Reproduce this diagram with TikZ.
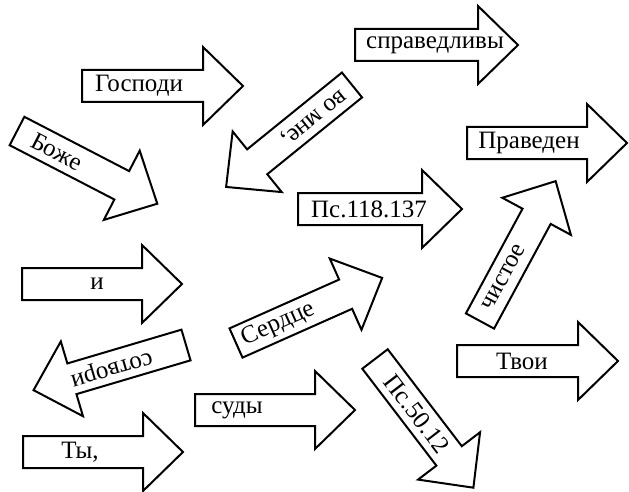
\documentclass[tikz,border=0pt]{standalone}
\usepackage{fontspec}
\setmainfont{Liberation Serif}
\usepackage{tikz}
\usetikzlibrary{calc}

\tikzset{
	signline/.style={draw, line width=2pt, fill=white},
	signtext/.style={font=\fontsize{25}{27}\selectfont, inner sep=0pt, transform shape}
}

% arrow sign: name, tail point, angle, length, text offset from tail, text
\newcommand{\arrowsign}[6]{
	\begin{scope}[shift={#2}, rotate=#3]
		\draw [signline] (0,-16) -- ({#4-40},-16) -- ({#4-40},-39) -- (#4,0) -- ({#4-40},39) -- ({#4-40},16) -- (0,16) -- cycle;
		\node [signtext] at (#5,0) (#1){#6};
	\end{scope}
}

\begin{document}
\begin{tikzpicture}[x=1pt, y=1pt]

	\useasboundingbox (0,0) rectangle (629,491);

	% top row
	\arrowsign{gospodi}{(82,405)}{0}{161}{57}{Господи}
	\arrowsign{spravedlivy}{(355,446)}{0}{163}{80}{справедливы}
	\arrowsign{vomne}{(352,406)}{219}{162}{50}{во мне,}
	\arrowsign{bozhe}{(17,360)}{-27.4}{158}{45}{Боже}
	\arrowsign{praveden}{(467,348)}{0}{160}{62}{Праведен}
	\arrowsign{ps118}{(298,282)}{0}{164}{71}{Пс.118.137}

	% middle row
	\arrowsign{i}{(22,207)}{0}{160}{75}{и}
	\arrowsign{chistoe}{(480,170)}{61.6}{159}{50}{чистое}
	\arrowsign{serdce}{(236,148)}{24}{160}{46}{Сердце}
	\arrowsign{sotvori}{(186,146)}{196.5}{159}{78}{сотвори}
	\arrowsign{tvoi}{(457,130)}{0}{161}{65}{Твои}

	% bottom row
	\arrowsign{ps50}{(375,132)}{-52.6}{162}{69}{Пс.50.12}
	\arrowsign{sudy}{(195,81)}{0}{160}{42}{суды}
	\arrowsign{ty}{(23,39)}{0}{160}{57}{Ты,}

\end{tikzpicture}
\end{document}
